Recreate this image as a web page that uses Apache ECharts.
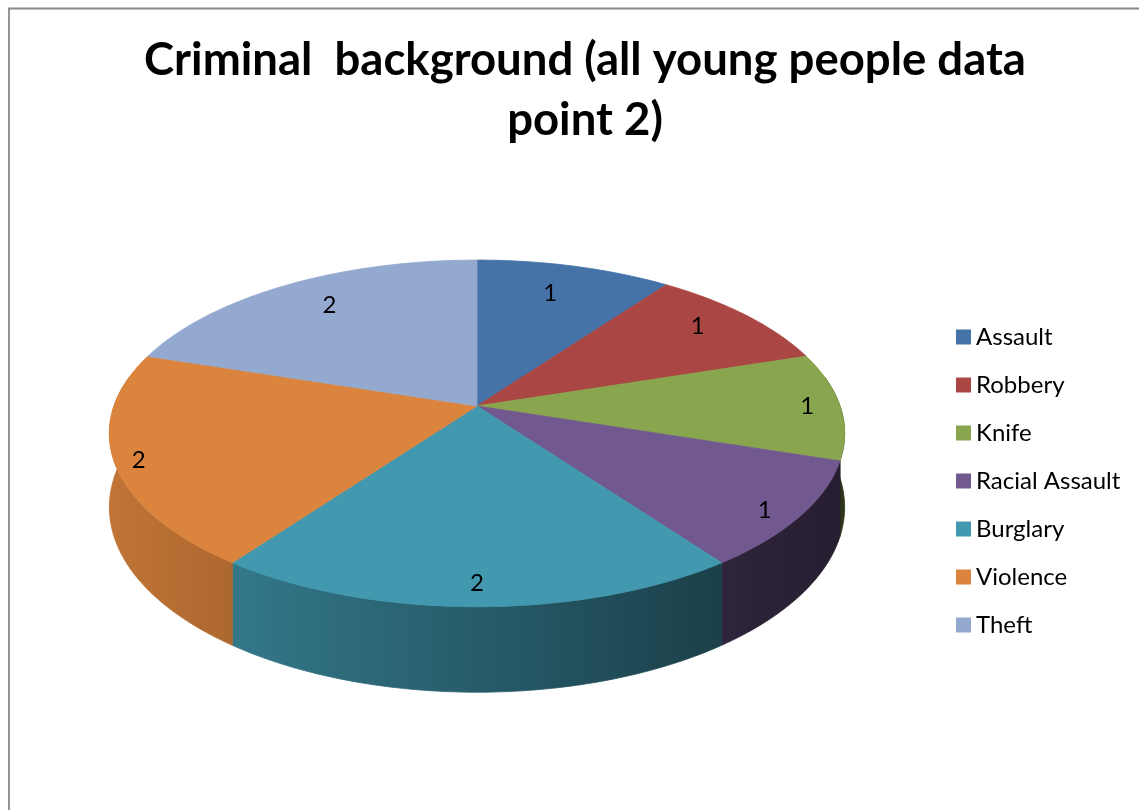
<!DOCTYPE html>
<html><head><meta charset="utf-8">
<script src="https://cdn.jsdelivr.net/npm/echarts@6/dist/echarts.min.js"></script>
<style>html,body{margin:0;padding:0;background:#fff}#chart{width:1139px;height:810px}</style>
</head><body><div id="chart"></div>
<script>
const categories = ['Assault', 'Robbery', 'Knife', 'Racial Assault', 'Burglary', 'Violence', 'Theft'];
const values = [1, 1, 1, 1, 2, 2, 2];
const colors = ['#4572A7', '#AA4643', '#89A54E', '#71588F', '#4198AF', '#DB843D', '#93A9CF'];
const titleText = 'Criminal  background (all young people data\npoint 2)';

const total = values.reduce((a, b) => a + b, 0);
const starts = values.map((v, i) => values.slice(0, i).reduce((a, b) => a + b, 0));

// 3D pie geometry (layout only)
const CX = 477, CY = 406, RX = 363, RY = 169, PERSP = 0.158, DEPTH = 72;
const SIDE_MIN = 80 * Math.PI / 180, SIDE_MAX = 280 * Math.PI / 180;
const FONT = 'Lato, "Open Sans", sans-serif';

function proj(t, f, dz) {
  const u = f * Math.sin(t), v = f * Math.cos(t);
  const k = 1 / (1 + PERSP * v);
  const kz = 1 / (1 + PERSP * Math.cos(t));
  return [CX + RX * u * k, CY - RY * v * k + dz * kz];
}
function labelPos(t) {
  const c = Math.cos(t);
  const f = Math.min(0.98, 0.91 - 0.27 * c);
  return [CX + RX * f * Math.sin(t), CY - RY * 1.07 * f * c];
}
function shade(hex, f) {
  const n = parseInt(hex.slice(1), 16);
  const r = Math.round(((n >> 16) & 255) * f), g = Math.round(((n >> 8) & 255) * f), b = Math.round((n & 255) * f);
  return 'rgb(' + r + ',' + g + ',' + b + ')';
}

function renderItem(params, api) {
  const s = api.value(0), v = api.value(1);
  const t0 = s / total * 2 * Math.PI, t1 = (s + v) / total * 2 * Math.PI;
  const color = api.visual('color');
  const children = [];
  const deg = Math.PI / 180;
  // side wall
  const a0 = Math.max(t0, SIDE_MIN), a1 = Math.min(t1, SIDE_MAX);
  if (a1 > a0) {
    const m = Math.max(2, Math.ceil((a1 - a0) / deg));
    const pts = [];
    for (let j = 0; j <= m; j++) pts.push(proj(a0 + (a1 - a0) * j / m, 1, 0));
    for (let j = m; j >= 0; j--) pts.push(proj(a0 + (a1 - a0) * j / m, 1, DEPTH));
    const grad = {
      type: 'linear', x: 108, y: 0, x2: 844, y2: 0, global: true,
      colorStops: [{ offset: 0, color: shade(color, 0.88) }, { offset: 1, color: shade(color, 0.33) }]
    };
    children.push({ type: 'polygon', z2: 1, shape: { points: pts }, style: { fill: grad, stroke: grad, lineWidth: 0.8 } });
  }
  // top face
  const n = Math.max(2, Math.ceil((t1 - t0) / deg));
  const top = [proj(0, 0, 0)];
  for (let j = 0; j <= n; j++) top.push(proj(t0 + (t1 - t0) * j / n, 1, 0));
  children.push({ type: 'polygon', z2: 5, shape: { points: top }, style: { fill: color, stroke: color, lineWidth: 0.8 } });
  // value label
  const p = labelPos((t0 + t1) / 2);
  children.push({
    type: 'text', z2: 10,
    style: { text: String(v), x: p[0], y: p[1], align: 'center', verticalAlign: 'middle', font: '24px ' + FONT, fill: '#000' }
  });
  return { type: 'group', children };
}

const chart = echarts.init(document.getElementById('chart'), null, { renderer: 'canvas' });
chart.setOption({
  animation: false,
  backgroundColor: '#fff',
  title: {
    text: titleText,
    left: 580, top: 25, textAlign: 'center',
    textStyle: { fontFamily: FONT, fontWeight: 'bold', fontSize: 45.5, lineHeight: 60, color: '#000' }
  },
  legend: {
    orient: 'vertical', left: 956, top: 325, padding: 0,
    itemWidth: 15, itemHeight: 15, itemGap: 24, icon: 'rect',
    data: categories,
    textStyle: { fontFamily: FONT, fontSize: 24, lineHeight: 24, color: '#000' }
  },
  graphic: [{
    type: 'polyline', shape: { points: [[9, 820], [9, 8.5], [1150, 8.5]] },
    style: { fill: 'none', stroke: '#898989', lineWidth: 1.8 }, silent: true
  }],
  series: categories.map((name, i) => ({
    type: 'custom', name: name, coordinateSystem: 'none',
    dimensions: ['start', 'value'],
    itemStyle: { color: colors[i] },
    renderItem: renderItem,
    data: [[starts[i], values[i]]]
  }))
});
</script></body></html>
